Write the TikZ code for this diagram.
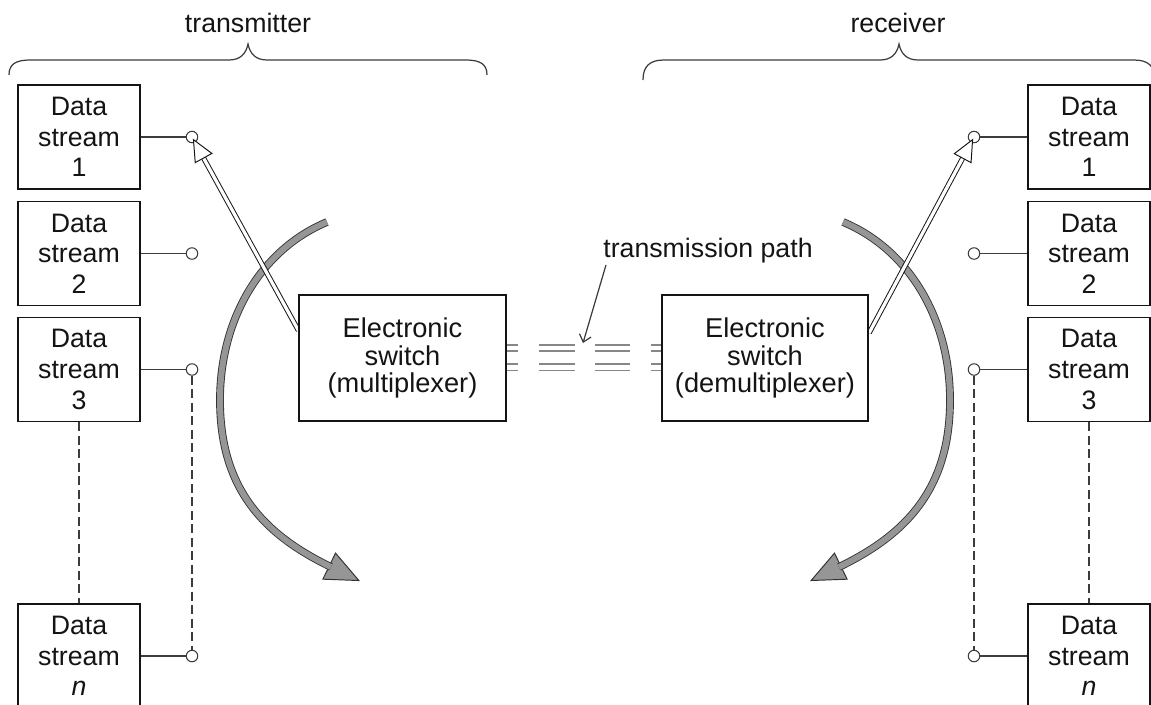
\documentclass[tikz,border=0pt]{standalone}
\usepackage{fontspec}
\setmainfont{Liberation Sans}
\usetikzlibrary{calc,backgrounds,arrows.meta}
\definecolor{ink}{RGB}{20,20,20}
\definecolor{wire}{RGB}{60,60,60}
\definecolor{arcfill}{RGB}{150,150,150}
\definecolor{arcline}{RGB}{50,50,50}
\definecolor{pathgray}{RGB}{135,135,135}
\begin{document}
\begin{tikzpicture}[x=0.02cm,y=-0.02cm,
  dsbox/.style={draw=ink, line width=0.95pt, fill=white, minimum width=2.44cm, minimum height=2.08cm, inner sep=0pt, align=center, font=\fontsize{15.2}{17.4}\selectfont, text=ink},
  swbox/.style={draw=ink, line width=0.95pt, fill=white, minimum width=4.13cm, minimum height=2.52cm, inner sep=0pt, align=center, font=\fontsize{15.5}{15.8}\selectfont, text=ink},
  term/.style={circle, draw=wire, line width=0.6pt, fill=white, minimum size=0.23cm, inner sep=0pt},
  lbl/.style={inner sep=0pt, font=\fontsize{15.2}{17.4}\selectfont, text=ink},
  wireline/.style={draw=wire, line width=0.7pt},
  dashwire/.style={wireline, dash pattern=on 0.18cm off 0.09cm},
  pathline/.style={draw=pathgray, line width=0.85pt, dash pattern=on 0.22cm off 0.42cm on 0.72cm off 0.40cm on 0.70cm off 0.42cm on 0.26cm off 1cm},
  dbl/.style={draw=ink, line width=0.55pt, double=white, double distance=0.065cm},
  hollowhead/.style={draw=ink, line width=0.55pt, fill=white, line join=miter},
  arcband/.style={draw=arcline, line width=0.5pt, double=arcfill, double distance=0.12cm},
  archead/.style={draw=arcline, line width=0.55pt, fill=arcfill, line join=miter},
  brace/.style={draw=wire, line width=0.7pt}]
\useasboundingbox (0,0) rectangle (1151,704);

% data stream boxes
\node[dsbox] (L1) at (79,137) {Data\\stream\\1};
\node[dsbox] (L2) at (79,253.5) {Data\\stream\\2};
\node[dsbox] (L3) at (79,369.5) {Data\\stream\\3};
\node[dsbox] (Ln) at (79,656) {Data\\stream\\\textit{n}};
\node[dsbox] (R1) at (1089,137) {Data\\stream\\1};
\node[dsbox] (R2) at (1089,253.5) {Data\\stream\\2};
\node[dsbox] (R3) at (1089,369.5) {Data\\stream\\3};
\node[dsbox] (Rn) at (1089,656) {Data\\stream\\\textit{n}};

% terminals
\node[term] (a1) at (192,137) {};
\node[term] (a2) at (192,253.5) {};
\node[term] (a3) at (192,369.5) {};
\node[term] (an) at (192,656) {};
\node[term] (b1) at (974,137) {};
\node[term] (b2) at (974,253.5) {};
\node[term] (b3) at (974,369.5) {};
\node[term] (bn) at (974,656) {};

% switches
\node[swbox] (mux) at (402.5,358) {Electronic\\switch\\(multiplexer)};
\node[swbox] (dmx) at (765,358) {Electronic\\switch\\(demultiplexer)};

% labels
\node[lbl, anchor=base] (tx) at (248,32) {transmitter};
\node[lbl, anchor=base] (rx) at (898,32) {receiver};
\node[lbl, anchor=base west] (tp) at (603,257) {transmission path};

% braces
\draw[brace] (9,75) .. controls (9,64) and (16,60) .. (30,60) -- (229,60)
  .. controls (240,60) and (246,54) .. (248,44)
  .. controls (250,54) and (256,60) .. (267,60) -- (466,60)
  .. controls (480,60) and (487,64) .. (487,75);
\draw[brace] (643,80) .. controls (643,66) and (650,60) .. (664,60) -- (880,60)
  .. controls (891,60) and (897,54) .. (899,44)
  .. controls (901,54) and (907,60) .. (918,60) -- (1134,60)
  .. controls (1148,60) and (1155,66) .. (1155,80);

% box to terminal lines
\draw[wireline] (L1.east) -- (a1.west);
\draw[wireline] (L2.east) -- (a2.west);
\draw[wireline] (L3.east) -- (a3.west);
\draw[wireline] (Ln.east) -- (an.west);
\draw[wireline] (R1.west) -- (b1.east);
\draw[wireline] (R2.west) -- (b2.east);
\draw[wireline] (R3.west) -- (b3.east);
\draw[wireline] (Rn.west) -- (bn.east);
\draw[dashwire] (a3.south) -- (an.north);
\draw[dashwire] (b3.south) -- (bn.north);
\draw[dashwire] (L3.south) -- (Ln.north);
\draw[dashwire] (R3.south) -- (Rn.north);

% transmission path lines
\foreach \s in {0.26,0.14,-0.12,-0.25}
  \draw[pathline] ([yshift=\s*1cm]mux.east) -- ([yshift=\s*1cm]dmx.west);
\coordinate (tpend) at (583,343);
\draw[wireline, -{Straight Barb[length=0.14cm,width=0.24cm]}] ([xshift=0.06cm,yshift=-0.04cm]tp.south west) -- (tpend);

% double (hollow) arrows
\coordinate (mS) at ([yshift=0.55cm]mux.west);
\coordinate (mT) at ($(a1)!0.06cm!(mS)$);
\coordinate (mB) at ($(mT)!0.42cm!(mS)$);
\coordinate (dS) at ([yshift=0.5cm]dmx.east);
\coordinate (dT) at ($(b1)!0.06cm!(dS)$);
\coordinate (dB) at ($(dT)!0.42cm!(dS)$);

% curved grey arrows
\coordinate (lE) at (331,567);
\coordinate (lC) at (265,535);
\coordinate (lB) at ($(lE)!0.04cm!(lC)$);
\coordinate (lT) at ($(lE)!-0.62cm!(lC)$);
\coordinate (rE) at (839,567);
\coordinate (rC) at (905,535);
\coordinate (rB) at ($(rE)!0.04cm!(rC)$);
\coordinate (rT) at ($(rE)!-0.62cm!(rC)$);

\begin{pgfonlayer}{background}
  \draw[archead] (lT) -- ($(lB)!0.29cm!90:(lT)$) -- ($(lB)!0.29cm!-90:(lT)$) -- cycle;
  \draw[arcband] (327,222) .. controls (260,250) and (220,320) .. (220,400)
    .. controls (220,490) and (lC) .. (lE);
  \draw[archead] (rT) -- ($(rB)!0.29cm!90:(rT)$) -- ($(rB)!0.29cm!-90:(rT)$) -- cycle;
  \draw[arcband] (843,222) .. controls (910,250) and (950,320) .. (950,400)
    .. controls (950,490) and (rC) .. (rE);
  \draw[dbl] (mS) -- (mB);
  \draw[dbl] (dS) -- (dB);
\end{pgfonlayer}

\draw[hollowhead] (mT) -- ($(mB)!0.19cm!90:(mT)$) -- ($(mB)!0.19cm!-90:(mT)$) -- cycle;
\draw[hollowhead] (dT) -- ($(dB)!0.19cm!90:(dT)$) -- ($(dB)!0.19cm!-90:(dT)$) -- cycle;
\end{tikzpicture}
\end{document}
